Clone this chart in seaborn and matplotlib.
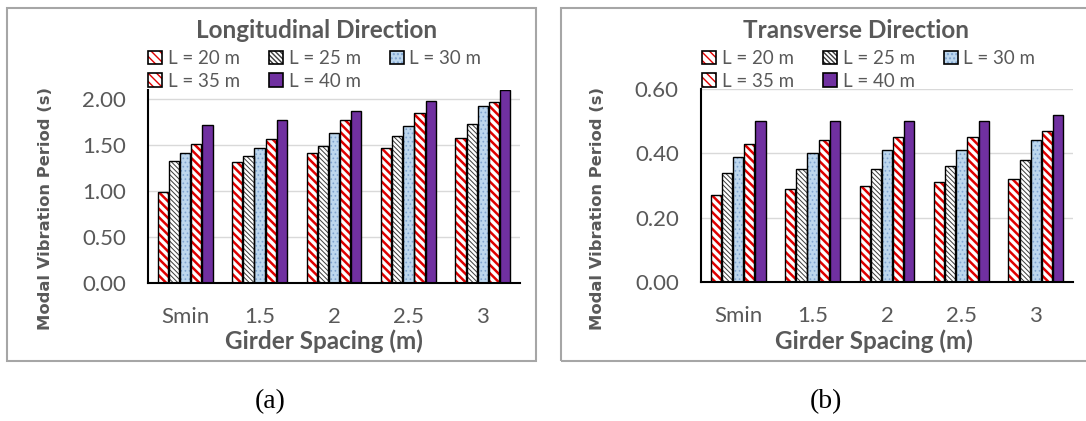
import matplotlib
matplotlib.use("Agg")
import matplotlib.pyplot as plt
from matplotlib.patches import Rectangle
from matplotlib.legend_handler import HandlerTuple
import seaborn as sns
import pandas as pd

# ---- data -------------------------------------------------------------
spacings = ["Smin", "1.5", "2", "2.5", "3"]
spans = ["L = 20 m", "L = 25 m", "L = 30 m", "L = 35 m", "L = 40 m"]

long_l20 = [0.99, 1.31, 1.41, 1.47, 1.57]
long_l25 = [1.32, 1.38, 1.49, 1.60, 1.73]
long_l30 = [1.41, 1.47, 1.63, 1.70, 1.92]
long_l35 = [1.51, 1.56, 1.77, 1.84, 1.96]
long_l40 = [1.72, 1.77, 1.87, 1.98, 2.10]

trans_l20 = [0.27, 0.29, 0.30, 0.31, 0.32]
trans_l25 = [0.34, 0.35, 0.35, 0.36, 0.38]
trans_l30 = [0.39, 0.40, 0.41, 0.41, 0.44]
trans_l35 = [0.43, 0.44, 0.45, 0.45, 0.47]
trans_l40 = [0.50, 0.50, 0.50, 0.50, 0.52]

long_ticks = [0.0, 0.5, 1.0, 1.5, 2.0]
trans_ticks = [0.0, 0.2, 0.4, 0.6]

# ---- style ------------------------------------------------------------
sns.set_theme(style="white")
plt.rcParams["font.family"] = ["Lato", "DejaVu Sans"]
TXT = "#595959"

# fill colour, hatch pattern, hatch colour, hatch line width per span
fills = ["white", "white", "#BDD7EE", "white", "#7030A0"]
hatches = ["\\\\\\\\", "\\\\\\\\\\\\\\", "....", "\\\\\\\\", None]
hatch_cols = ["#E00000", "#3A3A3A", "#7FA3CF", "#E00000", "#7030A0"]
hatch_lws = [1.8, 0.7, 0.7, 1.8, 1.0]


def make_frame(values):
    rows = []
    for name, vals in zip(spans, values):
        for sp, v in zip(spacings, vals):
            rows.append({"spacing": sp, "span": name, "period": v})
    return pd.DataFrame(rows)


df_long = make_frame([long_l20, long_l25, long_l30, long_l35, long_l40])
df_trans = make_frame([trans_l20, trans_l25, trans_l30, trans_l35, trans_l40])

W, H = 1086, 421
fig = plt.figure(figsize=(W / 100, H / 100), dpi=100)


def px_axes(x0, y0, x1, y1):
    return fig.add_axes([x0 / W, 1 - y1 / H, (x1 - x0) / W, (y1 - y0) / H])


def style_bars(ax):
    for i, cont in enumerate(ax.containers):
        for bar in cont:
            bar.set_edgecolor(hatch_cols[i])
            bar.set_linewidth(0)
            if hatches[i]:
                bar.set_hatch(hatches[i])
                if hasattr(bar, "set_hatch_linewidth"):
                    bar.set_hatch_linewidth(hatch_lws[i])
            outline = Rectangle(bar.get_xy(), bar.get_width(), bar.get_height(),
                                facecolor="none", edgecolor="black",
                                linewidth=1.0, zorder=bar.get_zorder() + 0.1)
            ax.add_patch(outline)


def legend_handles():
    handles = []
    for i in range(len(spans)):
        h1 = Rectangle((0, 0), 1, 1, facecolor=fills[i], edgecolor=hatch_cols[i],
                       linewidth=0, hatch=hatches[i])
        if hatches[i] and hasattr(h1, "set_hatch_linewidth"):
            h1.set_hatch_linewidth(hatch_lws[i])
        h2 = Rectangle((0, 0), 1, 1, facecolor="none", edgecolor="black", linewidth=1.2)
        handles.append((h1, h2))
    return handles


def panel(df, box, axbox, ylim, ticks, title, title_xy, xlabel_xy, ylabel_xy,
          legend_xy, caption, caption_xy):
    # outer chart frame
    bx0, by0, bx1, by1 = box
    fig.patches.append(Rectangle((bx0 / W, 1 - by1 / H), (bx1 - bx0) / W, (by1 - by0) / H,
                                 transform=fig.transFigure, facecolor="none",
                                 edgecolor="#A6A6A6", linewidth=1.5))
    ax = px_axes(*axbox)
    sns.barplot(data=df, x="spacing", y="period", hue="span", hue_order=spans,
                palette=fills, width=0.75, gap=0.08, legend=False, ax=ax,
                saturation=1)
    style_bars(ax)
    ax.set_ylim(*ylim)
    ax.set_yticks(ticks)
    ax.set_yticklabels([f"{t:.2f}" for t in ticks])
    ax.set_xlim(-0.5, len(spacings) - 0.5)
    ax.set_axisbelow(True)
    ax.yaxis.grid(True, color="#D9D9D9", linewidth=1.0)
    ax.xaxis.grid(False)
    for s in ["top", "right"]:
        ax.spines[s].set_visible(False)
    ax.spines["left"].set_color("black")
    ax.spines["left"].set_linewidth(1.5)
    ax.spines["bottom"].set_color("black")
    ax.spines["bottom"].set_linewidth(1.5)
    ax.tick_params(axis="both", length=0, labelsize=16, labelcolor=TXT)
    ax.tick_params(axis="y", pad=16)
    ax.tick_params(axis="x", pad=17)
    ax.set_xlabel("")
    ax.set_ylabel("")
    ax.set_facecolor("none")

    fig.text(title_xy[0] / W, 1 - title_xy[1] / H, title, ha="center", va="center",
             fontsize=17.5, fontweight="bold", color=TXT)
    fig.text(xlabel_xy[0] / W, 1 - xlabel_xy[1] / H, "Girder Spacing (m)",
             ha="center", va="center", fontsize=17.5, fontweight="bold", color=TXT)
    fig.text(ylabel_xy[0] / W, 1 - ylabel_xy[1] / H, "Modal Vibration Period (s)",
             ha="center", va="center", rotation=90, fontsize=11.8, fontweight="bold",
             color=TXT, family=["DejaVu Sans"])
    fig.text(caption_xy[0] / W, 1 - caption_xy[1] / H, caption, ha="center",
             va="center", fontsize=20, color="black", family=["Liberation Serif"])

    h = legend_handles()
    order = [0, 3, 1, 4, 2]
    fig.legend([h[i] for i in order], [spans[i] for i in order],
               handler_map={tuple: HandlerTuple(ndivide=1, pad=0)},
               loc="upper left",
               bbox_to_anchor=(legend_xy[0] / W, 1 - legend_xy[1] / H),
               ncol=3, frameon=False, fontsize=13.5, labelcolor=TXT,
               handlelength=0.75, handleheight=0.75, handletextpad=0.3,
               columnspacing=1.55, labelspacing=0.3, borderpad=0, borderaxespad=0)
    return ax


panel(df_long, box=(7, 8, 536, 361), axbox=(148, 89.5, 520, 283),
      ylim=(0, 2.1), ticks=long_ticks, title="Longitudinal Direction",
      title_xy=(317, 30), xlabel_xy=(324, 341), ylabel_xy=(46, 209),
      legend_xy=(148, 50), caption="(a)", caption_xy=(270, 402))

panel(df_trans, box=(561, 8, 1090, 361), axbox=(701, 89, 1073, 282),
      ylim=(0, 0.6), ticks=trans_ticks, title="Transverse Direction",
      title_xy=(856, 30), xlabel_xy=(874, 341), ylabel_xy=(598, 209),
      legend_xy=(702, 50), caption="(b)", caption_xy=(826, 402))

fig.savefig("out.png", dpi=100, facecolor="white")
